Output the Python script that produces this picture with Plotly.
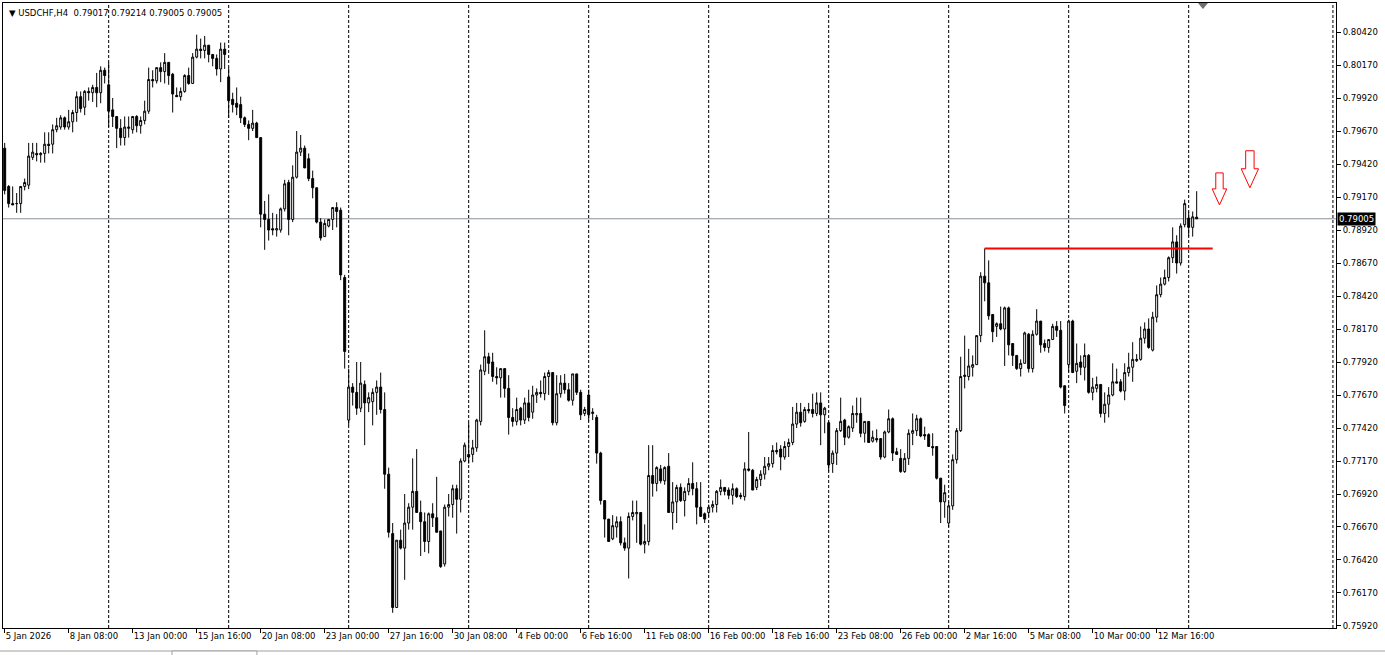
import pandas as pd
import plotly.graph_objects as go

symbol = "USDCHF,H4"

opens = [
    0.7954, 0.7925, 0.7912, 0.7912, 0.7912, 0.7925, 0.7926, 0.7947, 0.7950, 0.7949, 0.7950, 0.7957, 0.7957, 0.7968, 0.7970, 0.7977, 0.7970, 0.7974, 0.7981, 0.7993, 0.7985, 0.7997, 0.7996, 0.8000, 0.7996, 0.8013,
    0.8002, 0.7983, 0.7978, 0.7969, 0.7962, 0.7969, 0.7968, 0.7978, 0.7971, 0.7975, 0.7982, 0.8006, 0.8005, 0.8015, 0.8012, 0.8019, 0.8010, 0.7994, 0.7993, 0.7997, 0.8009, 0.8003, 0.8023, 0.8029, 0.8028, 0.8032, 0.8025, 0.8022, 0.8014, 0.8029,
    0.8008, 0.7991, 0.7988, 0.7987, 0.7977, 0.7972, 0.7969, 0.7973, 0.7962, 0.7904, 0.7900, 0.7893, 0.7892, 0.7892, 0.7908, 0.7928, 0.7900, 0.7932, 0.7951, 0.7954, 0.7946, 0.7931, 0.7924, 0.7898, 0.7887, 0.7895, 0.7900, 0.7909, 0.7907, 0.7856,
    0.7748, 0.7773, 0.7769, 0.7757, 0.7775, 0.7761, 0.7762, 0.7769, 0.7773, 0.7756, 0.7707, 0.7662, 0.7606, 0.7657, 0.7651, 0.7670, 0.7682, 0.7694, 0.7678, 0.7671, 0.7656, 0.7677, 0.7674, 0.7664, 0.7639, 0.7682, 0.7684, 0.7696, 0.7688, 0.7717,
    0.7722, 0.7722, 0.7727, 0.7747, 0.7785, 0.7796, 0.7792, 0.7781, 0.7780, 0.7787, 0.7772, 0.7750, 0.7747, 0.7757, 0.7748, 0.7761, 0.7754, 0.7767, 0.7769, 0.7768, 0.7781, 0.7784, 0.7746, 0.7768, 0.7776, 0.7771, 0.7763, 0.7783, 0.7769, 0.7753,
    0.7767, 0.7753, 0.7750, 0.7723, 0.7687, 0.7673, 0.7658, 0.7667, 0.7671, 0.7655, 0.7651, 0.7675, 0.7677, 0.7678, 0.7654, 0.7656, 0.7706, 0.7700, 0.7711, 0.7702, 0.7713, 0.7678, 0.7686, 0.7697, 0.7687, 0.7694, 0.7700, 0.7696, 0.7682, 0.7677,
    0.7678, 0.7682, 0.7684, 0.7694, 0.7697, 0.7695, 0.7691, 0.7696, 0.7691, 0.7690, 0.7711, 0.7710, 0.7697, 0.7703, 0.7707, 0.7713, 0.7715, 0.7725, 0.7726, 0.7720, 0.7728, 0.7731, 0.7745, 0.7754, 0.7747, 0.7756, 0.7756, 0.7753, 0.7761, 0.7752,
    0.7746, 0.7715, 0.7723, 0.7740, 0.7748, 0.7735, 0.7742, 0.7752, 0.7753, 0.7738, 0.7747, 0.7732, 0.7734, 0.7734, 0.7720, 0.7739, 0.7749, 0.7724, 0.7719, 0.7709, 0.7719, 0.7738, 0.7740, 0.7749, 0.7737, 0.7737, 0.7728, 0.7728, 0.7704, 0.7686,
    0.7670, 0.7683, 0.7718, 0.7740, 0.7781, 0.7781, 0.7788, 0.7790, 0.7812, 0.7857, 0.7852, 0.7828, 0.7819, 0.7821, 0.7817, 0.7833, 0.7806, 0.7797, 0.7787, 0.7791, 0.7813, 0.7787, 0.7813, 0.7823, 0.7806, 0.7803, 0.7809, 0.7819, 0.7816, 0.7774,
    0.7790, 0.7823, 0.7785, 0.7792, 0.7788, 0.7797, 0.7769, 0.7772, 0.7775, 0.7753, 0.7760, 0.7767, 0.7777, 0.7777, 0.7770, 0.7784, 0.7788, 0.7793, 0.7794, 0.7810, 0.7817, 0.7801, 0.7826, 0.7843, 0.7851, 0.7856, 0.7871, 0.7883, 0.7867, 0.7896, 0.7901, 0.7894, 0.79017,
]
highs = [
    0.7958, 0.7926, 0.7925, 0.7920, 0.7925, 0.7931, 0.7958, 0.7958, 0.7958, 0.7951, 0.7966, 0.7966, 0.7972, 0.7977, 0.7979, 0.7978, 0.7983, 0.7983, 0.7997, 0.7997, 0.7998, 0.8000, 0.8002, 0.8011, 0.8016, 0.8015,
    0.8019, 0.7992, 0.7978, 0.7976, 0.7978, 0.7978, 0.7978, 0.7979, 0.7978, 0.7990, 0.8015, 0.8013, 0.8015, 0.8019, 0.8026, 0.8019, 0.8011, 0.8000, 0.8000, 0.8010, 0.8015, 0.8026, 0.8040, 0.8037, 0.8039, 0.8032, 0.8025, 0.8025, 0.8034, 0.8034,
    0.8015, 0.7996, 0.8000, 0.7993, 0.7978, 0.7975, 0.7983, 0.7974, 0.7962, 0.7914, 0.7919, 0.7905, 0.7904, 0.7909, 0.7930, 0.7930, 0.7941, 0.7967, 0.7964, 0.7956, 0.7950, 0.7937, 0.7924, 0.7901, 0.7900, 0.7900, 0.7909, 0.7913, 0.7909, 0.7858,
    0.7787, 0.7776, 0.7792, 0.7792, 0.7778, 0.7769, 0.7772, 0.7778, 0.7784, 0.7769, 0.7712, 0.7670, 0.7657, 0.7665, 0.7692, 0.7685, 0.7719, 0.7726, 0.7687, 0.7678, 0.7678, 0.7685, 0.7705, 0.7664, 0.7684, 0.7692, 0.7699, 0.7699, 0.7719, 0.7731,
    0.7746, 0.7733, 0.7749, 0.7790, 0.7816, 0.7799, 0.7799, 0.7788, 0.7787, 0.7787, 0.7782, 0.7757, 0.7765, 0.7758, 0.7765, 0.7771, 0.7774, 0.7772, 0.7778, 0.7784, 0.7786, 0.7784, 0.7782, 0.7782, 0.7783, 0.7776, 0.7783, 0.7783, 0.7771, 0.7758,
    0.7771, 0.7757, 0.7752, 0.7724, 0.7687, 0.7673, 0.7676, 0.7675, 0.7675, 0.7659, 0.7678, 0.7687, 0.7687, 0.7678, 0.7669, 0.7729, 0.7729, 0.7713, 0.7714, 0.7713, 0.7723, 0.7701, 0.7699, 0.7700, 0.7697, 0.7704, 0.7716, 0.7701, 0.7701, 0.7678,
    0.7684, 0.7687, 0.7695, 0.7703, 0.7697, 0.7697, 0.7700, 0.7697, 0.7693, 0.7716, 0.7739, 0.7711, 0.7705, 0.7710, 0.7720, 0.7720, 0.7729, 0.7731, 0.7729, 0.7732, 0.7734, 0.7758, 0.7761, 0.7761, 0.7758, 0.7761, 0.7768, 0.7769, 0.7769, 0.7758,
    0.7747, 0.7725, 0.7742, 0.7765, 0.7749, 0.7744, 0.7759, 0.7765, 0.7765, 0.7747, 0.7747, 0.7740, 0.7741, 0.7734, 0.7740, 0.7756, 0.7750, 0.7727, 0.7726, 0.7723, 0.7741, 0.7753, 0.7752, 0.7750, 0.7743, 0.7738, 0.7738, 0.7728, 0.7704, 0.7699,
    0.7686, 0.7722, 0.7742, 0.7796, 0.7812, 0.7802, 0.7797, 0.7812, 0.7860, 0.7878, 0.7869, 0.7828, 0.7822, 0.7834, 0.7834, 0.7834, 0.7806, 0.7797, 0.7794, 0.7815, 0.7814, 0.7816, 0.7832, 0.7823, 0.7809, 0.7809, 0.7821, 0.7823, 0.7823, 0.7774,
    0.7824, 0.7824, 0.7806, 0.7797, 0.7806, 0.7798, 0.7780, 0.7781, 0.7775, 0.7769, 0.7773, 0.7791, 0.7787, 0.7779, 0.7791, 0.7799, 0.7807, 0.7798, 0.7819, 0.7822, 0.7825, 0.7830, 0.7850, 0.7856, 0.7862, 0.7872, 0.7894, 0.7888, 0.7897, 0.7915, 0.7906, 0.7906, 0.79214,
]
lows = [
    0.7919, 0.7909, 0.7911, 0.7905, 0.7905, 0.7922, 0.7923, 0.7945, 0.7944, 0.7943, 0.7943, 0.7950, 0.7950, 0.7966, 0.7968, 0.7968, 0.7968, 0.7966, 0.7974, 0.7981, 0.7979, 0.7990, 0.7989, 0.7985, 0.7988, 0.8003,
    0.7970, 0.7970, 0.7954, 0.7956, 0.7956, 0.7962, 0.7965, 0.7966, 0.7965, 0.7972, 0.7980, 0.8000, 0.8003, 0.8004, 0.8003, 0.8002, 0.7981, 0.7993, 0.7990, 0.7996, 0.8002, 0.8003, 0.8022, 0.8022, 0.8022, 0.8019, 0.8016, 0.8009, 0.8004, 0.8014,
    0.7977, 0.7981, 0.7979, 0.7973, 0.7970, 0.7960, 0.7967, 0.7962, 0.7894, 0.7877, 0.7884, 0.7888, 0.7887, 0.7890, 0.7906, 0.7888, 0.7898, 0.7931, 0.7948, 0.7939, 0.7929, 0.7916, 0.7897, 0.7884, 0.7887, 0.7894, 0.7892, 0.7894, 0.7854, 0.7787,
    0.7744, 0.7759, 0.7752, 0.7754, 0.7729, 0.7754, 0.7744, 0.7752, 0.7753, 0.7696, 0.7659, 0.7602, 0.7606, 0.7650, 0.7627, 0.7665, 0.7665, 0.7678, 0.7645, 0.7648, 0.7647, 0.7667, 0.7663, 0.7636, 0.7637, 0.7675, 0.7674, 0.7662, 0.7678, 0.7716,
    0.7715, 0.7716, 0.7724, 0.7744, 0.7782, 0.7783, 0.7777, 0.7775, 0.7765, 0.7765, 0.7737, 0.7743, 0.7744, 0.7744, 0.7745, 0.7747, 0.7749, 0.7761, 0.7765, 0.7763, 0.7767, 0.7744, 0.7744, 0.7765, 0.7768, 0.7762, 0.7759, 0.7767, 0.7748, 0.7751,
    0.7747, 0.7748, 0.7715, 0.7684, 0.7659, 0.7656, 0.7657, 0.7659, 0.7653, 0.7649, 0.7628, 0.7672, 0.7655, 0.7653, 0.7647, 0.7653, 0.7690, 0.7694, 0.7700, 0.7699, 0.7678, 0.7665, 0.7670, 0.7686, 0.7675, 0.7691, 0.7691, 0.7669, 0.7675, 0.7670,
    0.7675, 0.7678, 0.7678, 0.7691, 0.7691, 0.7688, 0.7684, 0.7689, 0.7688, 0.7687, 0.7709, 0.7695, 0.7695, 0.7698, 0.7703, 0.7710, 0.7712, 0.7722, 0.7710, 0.7718, 0.7720, 0.7729, 0.7742, 0.7743, 0.7746, 0.7753, 0.7750, 0.7751, 0.7729, 0.7738,
    0.7709, 0.7708, 0.7714, 0.7739, 0.7729, 0.7734, 0.7739, 0.7746, 0.7735, 0.7731, 0.7731, 0.7731, 0.7731, 0.7718, 0.7719, 0.7738, 0.7717, 0.7722, 0.7708, 0.7708, 0.7714, 0.7729, 0.7736, 0.7735, 0.7733, 0.7728, 0.7721, 0.7703, 0.7670, 0.7674,
    0.7667, 0.7680, 0.7715, 0.7739, 0.7772, 0.7778, 0.7781, 0.7790, 0.7807, 0.7838, 0.7824, 0.7807, 0.7811, 0.7816, 0.7789, 0.7797, 0.7789, 0.7786, 0.7781, 0.7791, 0.7784, 0.7784, 0.7812, 0.7799, 0.7800, 0.7799, 0.7809, 0.7811, 0.7772, 0.7753,
    0.7784, 0.7784, 0.7776, 0.7782, 0.7778, 0.7768, 0.7763, 0.7769, 0.7750, 0.7746, 0.7750, 0.7766, 0.7776, 0.7769, 0.7763, 0.7781, 0.7777, 0.7792, 0.7793, 0.7806, 0.7802, 0.7800, 0.7822, 0.7841, 0.7850, 0.7853, 0.7867, 0.7859, 0.7865, 0.7894, 0.7887, 0.7887, 0.79005,
]
closes = [
    0.7922, 0.7912, 0.7911, 0.7912, 0.7925, 0.7928, 0.7948, 0.7951, 0.7949, 0.7950, 0.7957, 0.7956, 0.7968, 0.7971, 0.7977, 0.7970, 0.7974, 0.7981, 0.7993, 0.7984, 0.7997, 0.7996, 0.8000, 0.7996, 0.8013, 0.8009,
    0.7982, 0.7978, 0.7969, 0.7962, 0.7970, 0.7970, 0.7978, 0.7971, 0.7975, 0.7982, 0.8006, 0.8005, 0.8015, 0.8012, 0.8019, 0.8009, 0.7995, 0.7993, 0.7997, 0.8009, 0.8003, 0.8023, 0.8029, 0.8028, 0.8032, 0.8025, 0.8022, 0.8014, 0.8029, 0.8025,
    0.7990, 0.7987, 0.7985, 0.7977, 0.7972, 0.7969, 0.7973, 0.7962, 0.7904, 0.7900, 0.7892, 0.7892, 0.7893, 0.7908, 0.7927, 0.7900, 0.7932, 0.7951, 0.7954, 0.7939, 0.7931, 0.7924, 0.7898, 0.7886, 0.7897, 0.7900, 0.7909, 0.7906, 0.7858, 0.7800,
    0.7773, 0.7769, 0.7757, 0.7776, 0.7761, 0.7765, 0.7769, 0.7773, 0.7756, 0.7707, 0.7663, 0.7606, 0.7657, 0.7651, 0.7670, 0.7682, 0.7694, 0.7678, 0.7671, 0.7656, 0.7677, 0.7674, 0.7663, 0.7637, 0.7682, 0.7684, 0.7696, 0.7688, 0.7717, 0.7729,
    0.7720, 0.7727, 0.7748, 0.7786, 0.7796, 0.7791, 0.7781, 0.7780, 0.7787, 0.7772, 0.7750, 0.7747, 0.7756, 0.7748, 0.7761, 0.7750, 0.7767, 0.7769, 0.7768, 0.7781, 0.7784, 0.7746, 0.7768, 0.7776, 0.7771, 0.7763, 0.7783, 0.7769, 0.7752, 0.7756,
    0.7752, 0.7754, 0.7723, 0.7687, 0.7673, 0.7656, 0.7668, 0.7671, 0.7655, 0.7651, 0.7675, 0.7678, 0.7678, 0.7654, 0.7656, 0.7706, 0.7700, 0.7712, 0.7702, 0.7712, 0.7678, 0.7686, 0.7697, 0.7687, 0.7694, 0.7700, 0.7696, 0.7682, 0.7675, 0.7673,
    0.7682, 0.7684, 0.7694, 0.7697, 0.7694, 0.7691, 0.7696, 0.7690, 0.7690, 0.7711, 0.7710, 0.7695, 0.7703, 0.7707, 0.7713, 0.7715, 0.7725, 0.7724, 0.7720, 0.7728, 0.7731, 0.7745, 0.7754, 0.7746, 0.7756, 0.7755, 0.7753, 0.7761, 0.7752, 0.7757,
    0.7714, 0.7723, 0.7740, 0.7747, 0.7735, 0.7743, 0.7753, 0.7753, 0.7738, 0.7747, 0.7731, 0.7735, 0.7733, 0.7720, 0.7739, 0.7749, 0.7723, 0.7722, 0.7709, 0.7719, 0.7738, 0.7740, 0.7749, 0.7736, 0.7736, 0.7728, 0.7727, 0.7704, 0.7686, 0.7693,
    0.7683, 0.7718, 0.7740, 0.7781, 0.7782, 0.7789, 0.7790, 0.7812, 0.7857, 0.7852, 0.7827, 0.7815, 0.7821, 0.7817, 0.7833, 0.7805, 0.7797, 0.7787, 0.7791, 0.7814, 0.7787, 0.7813, 0.7823, 0.7805, 0.7803, 0.7809, 0.7819, 0.7816, 0.7773, 0.7759,
    0.7823, 0.7784, 0.7791, 0.7788, 0.7797, 0.7769, 0.7773, 0.7775, 0.7753, 0.7760, 0.7767, 0.7777, 0.7776, 0.7770, 0.7784, 0.7788, 0.7794, 0.7794, 0.7810, 0.7817, 0.7803, 0.7826, 0.7843, 0.7851, 0.7856, 0.7871, 0.7883, 0.7867, 0.7895, 0.7912, 0.7894, 0.7902, 0.79005,
]
assert len(opens) == len(highs) == len(lows) == len(closes) == 299, (len(opens), len(highs), len(lows), len(closes))

# first bar time of the chart (H4, weekdays only)
first_bar = pd.Timestamp("2026-01-05 16:00")
price_ticks = [0.75920, 0.76170, 0.76420, 0.76670, 0.76920, 0.77170, 0.77420, 0.77670, 0.77920,
               0.78170, 0.78420, 0.78670, 0.78920, 0.79170, 0.79420, 0.79670, 0.79920, 0.80170, 0.80420]

# horizontal level (red line): price and bar span
level_price = 0.7878
level_bars = [245, 302]
# arrow objects: bar position and price of the arrow tip
arrow_bars = [303.7, 311.3]
arrow_prices = [0.7911, 0.7924]

# ---- derived ----
days = pd.bdate_range("2026-01-05", "2026-03-31")
times = [d + pd.Timedelta(hours=h) for d in days for h in range(0, 24, 4)]
times = [t for t in times if t >= first_bar][:len(opens)]
xs = list(range(len(opens)))

tick_idx = xs[::16]
tick_text = [f"{times[0].day} {times[0]:%b %Y}"] + [f"{times[i].day} {times[i]:%b %H:%M}" for i in tick_idx[1:]]
sep_idx = [i for i, t in enumerate(times) if t.weekday() == 0 and t.hour == 0]

FONT = "DejaVu Sans"
FS = 8.5

fig = go.Figure(go.Candlestick(
    x=xs, open=opens, high=highs, low=lows, close=closes,
    increasing=dict(line=dict(color="black", width=1), fillcolor="white"),
    decreasing=dict(line=dict(color="black", width=1), fillcolor="black"),
    whiskerwidth=0, hoverinfo="skip",
))

shapes = []
for i in sep_idx:
    shapes.append(dict(type="line", xref="x", yref="paper", x0=i, x1=i, y0=0, y1=1,
                       line=dict(color="black", width=1, dash="3px,2px"), layer="below"))
# right-edge dashed line
shapes.append(dict(type="line", xref="paper", yref="paper", x0=0.9977, x1=0.9977, y0=0, y1=1,
                   line=dict(color="black", width=1, dash="3px,2px"), layer="below"))
# current price line
shapes.append(dict(type="line", xref="paper", yref="y", x0=0, x1=1, y0=closes[-1], y1=closes[-1],
                   line=dict(color="#8a9099", width=1), layer="below"))
# red level
shapes.append(dict(type="line", xref="x", yref="y", x0=level_bars[0], x1=level_bars[1],
                   y0=level_price, y1=level_price, line=dict(color="#ff0000", width=2)))


def arrow_path(hs, hh, head, total):
    return (f"M {-hs} {head} L {-hs} {total} L {hs} {total} L {hs} {head} "
            f"L {hh} {head} L 0 0 L {-hh} {head} Z")


arrow_dims = [(3.7, 7.3, 16, 32), (4.2, 8.7, 19, 37)]
for bx, py, dims in zip(arrow_bars, arrow_prices, arrow_dims):
    shapes.append(dict(type="path", xref="x", yref="y", xsizemode="pixel", ysizemode="pixel",
                       xanchor=bx, yanchor=py, path=arrow_path(*dims),
                       line=dict(color="#ff0000", width=1), fillcolor="white"))
# chart shift marker at top
shapes.append(dict(type="path", xref="paper", yref="paper", xsizemode="pixel", ysizemode="pixel",
                   xanchor=0.9002, yanchor=1, path="M -5 0 L 5 0 L 0 -6 Z",
                   line=dict(color="#707070", width=0), fillcolor="#707070"))
# window tab strip under the chart
shapes.append(dict(type="line", xref="paper", yref="paper", x0=-0.003, x1=1.04, y0=-0.0368, y1=-0.0368,
                   line=dict(color="#a0a0a0", width=1)))
shapes.append(dict(type="rect", xref="paper", yref="paper", x0=0.1268, x1=0.1905, y0=-0.0368, y1=-0.05,
                   line=dict(color="#a0a0a0", width=1), fillcolor="white"))

title_txt = "\u25BC\u00a0" + symbol + "\u00a0\u00a0" + " ".join(f"{v:.5f}" for v in (opens[-1], highs[-1], lows[-1], closes[-1]))
annotations = [
    dict(xref="paper", yref="paper", x=0.003, y=1, xanchor="left", yanchor="top", yshift=-3,
         text=title_txt, showarrow=False, font=dict(family=FONT, size=FS, color="black")),
    dict(xref="paper", yref="y", x=1, y=closes[-1], xanchor="left", yanchor="middle", xshift=1,
         text=f"{closes[-1]:.5f}", showarrow=False, bgcolor="black", borderpad=1,
         font=dict(family=FONT, size=FS, color="white")),
]

fig.update_layout(
    width=1385, height=655,
    margin=dict(l=3, r=49, t=3, b=27, autoexpand=False),
    paper_bgcolor="white", plot_bgcolor="white",
    showlegend=False, hovermode=False,
    shapes=shapes, annotations=annotations,
    xaxis=dict(range=[-0.42, 332.83], rangeslider=dict(visible=False), showgrid=False, zeroline=False,
               showline=True, mirror=True, linecolor="black", linewidth=1,
               ticks="outside", ticklen=4, tickcolor="black", tickangle=0, automargin=False,
               tickvals=tick_idx, ticktext=tick_text, ticklabelposition="outside right",
               tickfont=dict(family=FONT, size=FS, color="black")),
    yaxis=dict(side="right", range=[0.759048, 0.806397], showgrid=False, zeroline=False,
               showline=True, mirror=True, linecolor="black", linewidth=1,
               ticks="outside", ticklen=4, tickcolor="black", automargin=False,
               tickvals=price_ticks, tickformat=".5f",
               tickfont=dict(family=FONT, size=FS, color="black")),
)

fig.write_html("out.html", config={"displayModeBar": False},
               post_script="document.body.style.margin='0';")
